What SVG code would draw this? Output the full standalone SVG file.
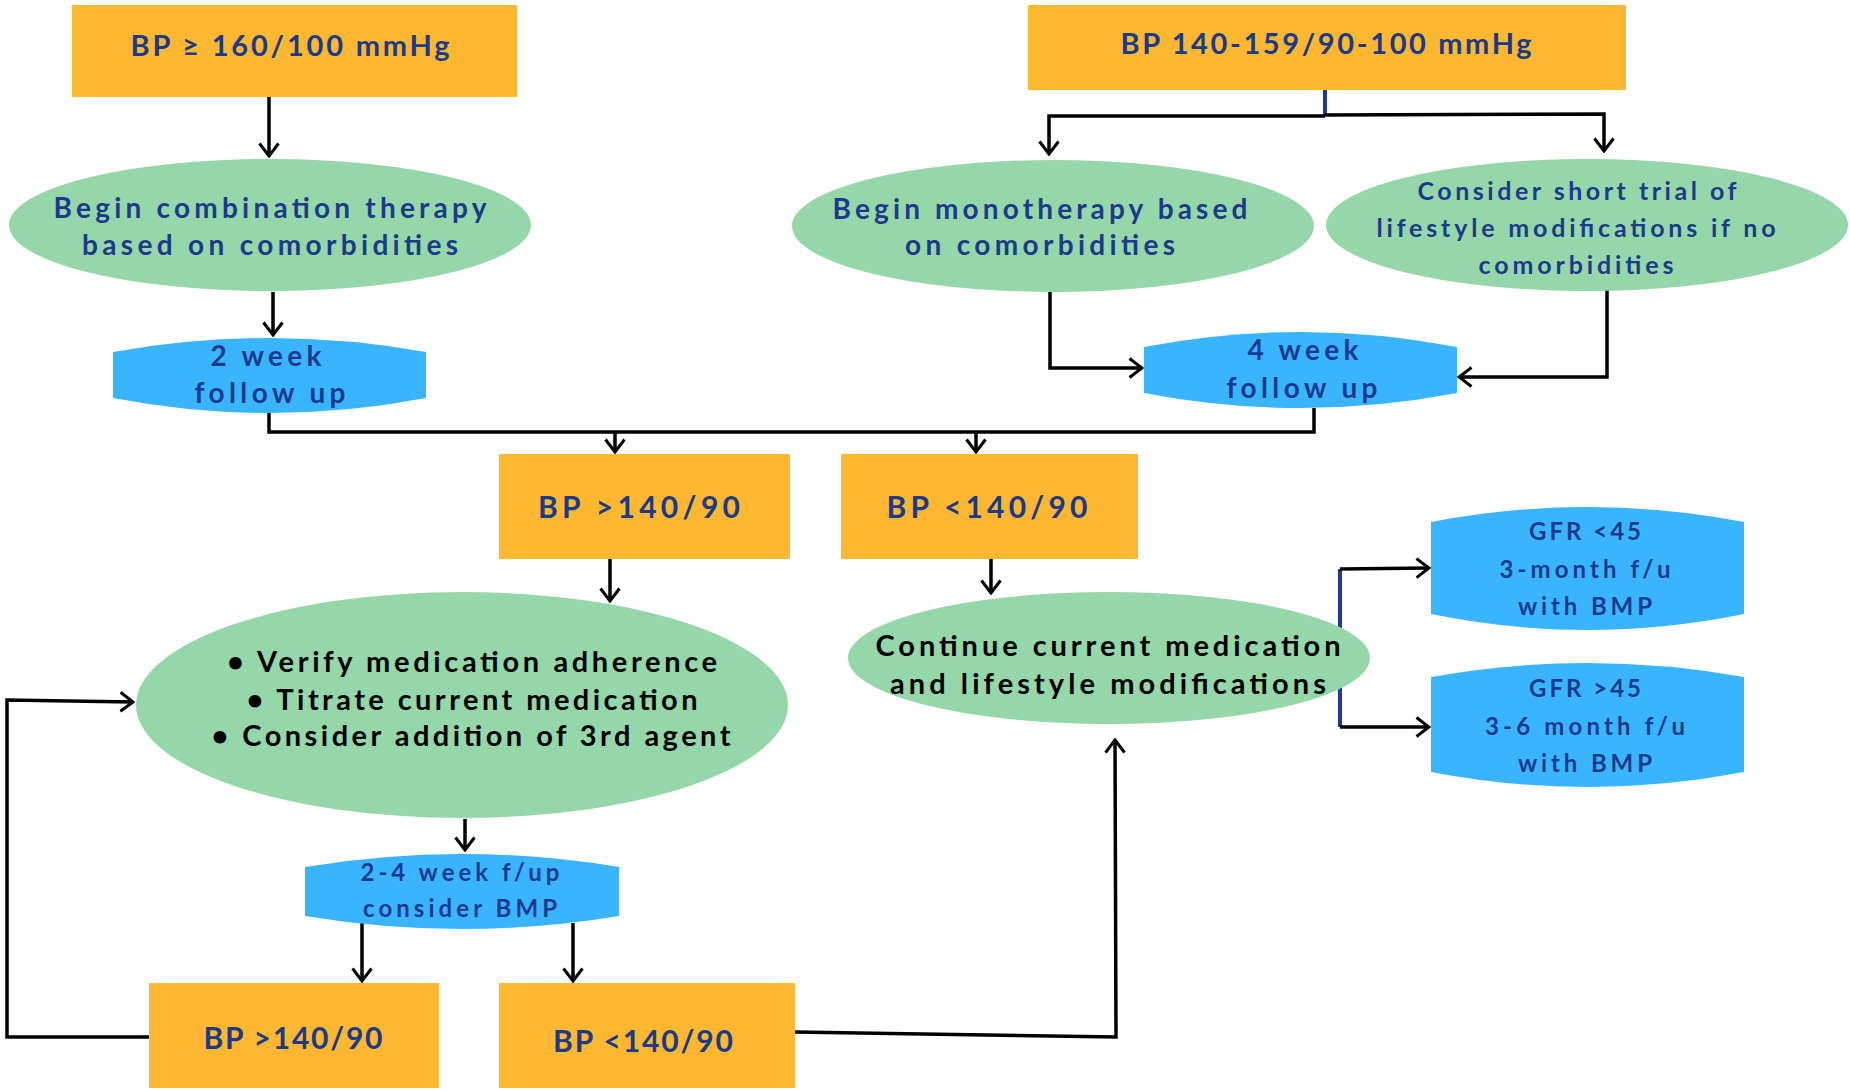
<svg xmlns="http://www.w3.org/2000/svg" width="1850" height="1091" viewBox="0 0 1850 1091">
<style>
.box{fill:#FDB731}
.ell{fill:#95D7A8}
.hex{fill:#39B5FF}
.t{font-family:Lato,"Liberation Sans",Arial,sans-serif;font-weight:bold;fill:#1B3A8C;text-anchor:middle}
.k{fill:#000}
.c{fill:none;stroke:#000;stroke-width:3.5}
.b{fill:none;stroke:#1F3A93;stroke-width:4}
.a{marker-end:url(#ah)}
</style>
<defs>
<marker id="ah" markerUnits="userSpaceOnUse" viewBox="0 0 16 22" markerWidth="16" markerHeight="22" refX="14" refY="11" orient="auto">
<path d="M1.5,1.5 L14,11 L1.5,20.5" fill="none" stroke="#000" stroke-width="3"/>
</marker>
</defs>
<rect width="1850" height="1091" fill="#fff"/>
<g id="connectors">
<path class="c a" d="M269,97 L269,156"/>
<path class="b" d="M1325,90 L1325,116"/>
<path class="c a" d="M1325,116 L1049,116 L1049,154"/>
<path class="c a" d="M1325,115 L1604,114 L1604,151"/>
<path class="c a" d="M273,292 L273,335"/>
<path class="c a" d="M1050,292 L1050,368 L1142,368"/>
<path class="c a" d="M1607,290 L1607,377 L1459,377"/>
<path class="c" d="M269,412 L269,432 L1314,432 L1314,408"/>
<path class="c a" d="M615,432 L615,452"/>
<path class="c a" d="M976,432 L976,452"/>
<path class="c a" d="M610,559 L610,601"/>
<path class="c a" d="M991,559 L991,593"/>
<path class="c a" d="M465,819 L465,850"/>
<path class="c a" d="M362,923 L362,981"/>
<path class="c a" d="M573,923 L573,981"/>
<path class="c a" d="M149,1037 L7,1037 L7,700 L133,702"/>
<path class="c a" d="M795,1032 L1116,1037 L1115,740"/>
<path class="b" d="M1340,569 L1340,727"/>
<path class="c a" d="M1340,569 L1429,568"/>
<path class="c a" d="M1340,727 L1429,727"/>
</g>
<g id="n1">
<rect class="box" x="72" y="5" width="445" height="92"/>
<text class="t" x="290" y="56" font-size="29" textLength="319" lengthAdjust="spacing">BP ≥ 160/100 mmHg</text>
</g>
<g id="n2">
<rect class="box" x="1028" y="5" width="598" height="85"/>
<text class="t" x="1326" y="54" font-size="29" textLength="411" lengthAdjust="spacing">BP 140-159/90-100 mmHg</text>
</g>
<g id="n3">
<ellipse class="ell" cx="270" cy="225" rx="261" ry="66"/>
<text class="t" x="270" y="218" font-size="28" textLength="433" lengthAdjust="spacing">Begin combination therapy</text>
<text class="t" x="270" y="255" font-size="28" textLength="376" lengthAdjust="spacing">based on comorbidities</text>
</g>
<g id="n4">
<ellipse class="ell" cx="1053" cy="226" rx="261" ry="66"/>
<text class="t" x="1040" y="219" font-size="28" textLength="415" lengthAdjust="spacing">Begin monotherapy based</text>
<text class="t" x="1040" y="255" font-size="28" textLength="270" lengthAdjust="spacing">on comorbidities</text>
</g>
<g id="n5">
<ellipse class="ell" cx="1587" cy="225" rx="261" ry="66"/>
<text class="t" x="1577" y="200" font-size="25" textLength="319" lengthAdjust="spacing">Consider short trial of</text>
<text class="t" x="1576" y="237" font-size="25" textLength="399" lengthAdjust="spacing">lifestyle modifications if no</text>
<text class="t" x="1576" y="274" font-size="25" textLength="195" lengthAdjust="spacing">comorbidities</text>
</g>
<g id="n6">
<path class="hex" d="M113,352 Q269,324 426,352 L426,398 Q269,428 113,398 Z"/>
<text class="t" x="266" y="366" font-size="28" textLength="111" lengthAdjust="spacing">2 week</text>
<text class="t" x="270" y="403" font-size="28" textLength="151" lengthAdjust="spacing">follow up</text>
</g>
<g id="n7">
<path class="hex" d="M1144,347 Q1300,317 1457,347 L1457,393 Q1300,423 1144,393 Z"/>
<text class="t" x="1303" y="360" font-size="28" textLength="111" lengthAdjust="spacing">4 week</text>
<text class="t" x="1302" y="398" font-size="28" textLength="151" lengthAdjust="spacing">follow up</text>
</g>
<g id="n8">
<rect class="box" x="499" y="454" width="291" height="105"/>
<text class="t" x="639" y="518" font-size="30" textLength="202" lengthAdjust="spacing">BP &gt;140/90</text>
</g>
<g id="n9">
<rect class="box" x="841" y="454" width="297" height="105"/>
<text class="t" x="987" y="518" font-size="30" textLength="201" lengthAdjust="spacing">BP &lt;140/90</text>
</g>
<g id="n10">
<ellipse class="ell" cx="462" cy="705" rx="326" ry="113"/>
<text class="t k" x="472" y="672" font-size="29" textLength="490" lengthAdjust="spacing">• Verify medication adherence</text>
<text class="t k" x="472" y="710" font-size="29" textLength="451" lengthAdjust="spacing">• Titrate current medication</text>
<text class="t k" x="471" y="746" font-size="29" textLength="519" lengthAdjust="spacing">• Consider addition of 3rd agent</text>
</g>
<g id="n11">
<ellipse class="ell" cx="1109" cy="658" rx="261" ry="66"/>
<text class="t k" x="1108" y="656" font-size="29" textLength="465" lengthAdjust="spacing">Continue current medication</text>
<text class="t k" x="1108" y="694" font-size="29" textLength="436" lengthAdjust="spacing">and lifestyle modifications</text>
</g>
<g id="n12">
<path class="hex" d="M1431,522 Q1587,492 1744,522 L1744,614 Q1587,646 1431,614 Z"/>
<text class="t" x="1585" y="540" font-size="24" textLength="112" lengthAdjust="spacing">GFR &lt;45</text>
<text class="t" x="1585" y="578" font-size="24" textLength="171" lengthAdjust="spacing">3-month f/u</text>
<text class="t" x="1585" y="615" font-size="24" textLength="134" lengthAdjust="spacing">with BMP</text>
</g>
<g id="n13">
<path class="hex" d="M1431,677 Q1587,649 1744,677 L1744,772 Q1587,802 1431,772 Z"/>
<text class="t" x="1585" y="697" font-size="24" textLength="112" lengthAdjust="spacing">GFR &gt;45</text>
<text class="t" x="1585" y="735" font-size="24" textLength="200" lengthAdjust="spacing">3-6 month f/u</text>
<text class="t" x="1585" y="772" font-size="24" textLength="134" lengthAdjust="spacing">with BMP</text>
</g>
<g id="n14">
<path class="hex" d="M305,867 Q462,841 619,867 L619,916 Q462,942 305,916 Z"/>
<text class="t" x="460" y="881" font-size="24" textLength="199" lengthAdjust="spacing">2-4 week f/up</text>
<text class="t" x="460" y="917" font-size="24" textLength="194" lengthAdjust="spacing">consider BMP</text>
</g>
<g id="n15">
<rect class="box" x="149" y="983" width="290" height="105"/>
<text class="t" x="293" y="1049" font-size="30" textLength="179" lengthAdjust="spacing">BP &gt;140/90</text>
</g>
<g id="n16">
<rect class="box" x="499" y="983" width="296" height="105"/>
<text class="t" x="643" y="1052" font-size="30" textLength="180" lengthAdjust="spacing">BP &lt;140/90</text>
</g>
</svg>
